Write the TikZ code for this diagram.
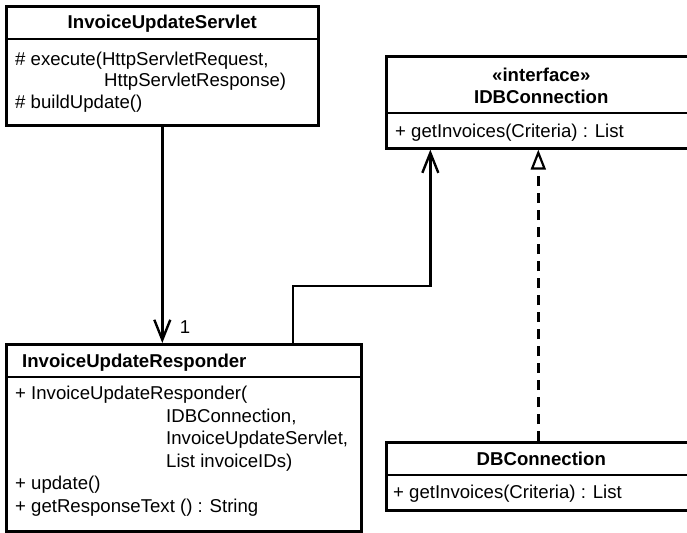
\documentclass[tikz,border=0pt]{standalone}
\usepackage{fontspec}
\setmainfont{Liberation Sans}
\usetikzlibrary{calc,positioning,arrows.meta}

\begin{document}
\begin{tikzpicture}[x=1pt,y=-1pt,
  font=\fontsize{18.6}{21}\selectfont,
  classbox/.style={draw,line width=2.6pt,inner sep=0pt,anchor=north west},
  sepline/.style={line width=1.6pt},
  titletext/.style={font=\fontsize{18.6}{21}\selectfont\bfseries,inner sep=0pt,anchor=base},
  optext/.style={align=left,inner sep=0pt,anchor=base west},
  assoc/.style={line width=2.4pt,-{Straight Barb[length=20pt,width=16pt,line width=2.4pt]}},
  realize/.style={line width=2.4pt,dash pattern=on 10pt off 7pt,-{Triangle[open,length=20pt,width=15pt,line width=2.2pt]}}]
  \useasboundingbox (0,0) rectangle (687,532);
  % classes
  \node[classbox,minimum width=312pt,minimum height=119pt] (Servlet) at (5,5) {};
  \node[classbox,minimum width=310pt,minimum height=92pt] (IDBConn) at (385,55) {};
  \node[classbox,minimum width=355pt,minimum height=187pt] (Responder) at (5,343) {};
  \node[classbox,minimum width=310pt,minimum height=68pt] (DBConn) at (385,441) {};
  %
  \draw[sepline] ([yshift=-34pt]Servlet.north west) -- ([yshift=-34pt]Servlet.north east);
  \draw[sepline] ([yshift=-58pt]IDBConn.north west) -- ([yshift=-58pt]IDBConn.north east);
  \draw[sepline] ([yshift=-34pt]Responder.north west) -- ([yshift=-34pt]Responder.north east);
  \draw[sepline] ([yshift=-34pt]DBConn.north west) -- ([yshift=-34pt]DBConn.north east);
  % texts (base = last line)
  \node[titletext] (Servlet_name) at ($(Servlet.north)+(0,24)$) {InvoiceUpdateServlet};
  \node[optext] (Servlet_ops) at ($(Servlet.north west)+(10,103)$) {\# execute(HttpServletRequest,\\
    \hspace*{89pt}HttpServletResponse)\\
    \# buildUpdate()};
  \node[titletext] (IDBConn_stereo) at ($(IDBConn.north)+(0,27)$) {«interface»};
  \node[titletext] (IDBConn_name) at ($(IDBConn.north)+(0,48)$) {IDBConnection};
  \node[optext] (IDBConn_ops) at ($(IDBConn.north west)+(10,82)$) {+ getInvoices(Criteria) : List};
  \node[titletext,anchor=base west] (Responder_name) at ($(Responder.north west)+(17,24)$) {InvoiceUpdateResponder};
  \node[optext,font=\fontsize{18.6}{22.5}\selectfont] (Responder_ops) at ($(Responder.north west)+(10,169)$) {+ InvoiceUpdateResponder(\\
    \hspace*{151pt}IDBConnection,\\
    \hspace*{151pt}InvoiceUpdateServlet,\\
    \hspace*{151pt}List invoiceIDs)\\
    + update()\\
    + getResponseText () : String};
  \node[titletext] (DBConn_name) at ($(DBConn.north)+(0,24)$) {DBConnection};
  \node[optext] (DBConn_ops) at ($(DBConn.north west)+(8,57)$) {+ getInvoices(Criteria) : List};
  %
  \coordinate (Responder_out) at ($(Responder.north west)!0.806!(Responder.north east)$);
  \coordinate (IDBConn_in) at ($(IDBConn.south west)!0.145!(IDBConn.south east)$);
  \draw[assoc] (Servlet.south) -- node[pos=1,anchor=base west,xshift=13pt,yshift=10pt] (mult) {1} (Servlet.south |- Responder.north);
  \draw[assoc] (Responder_out) -- ++(0,-57) -| (IDBConn_in);
  \draw[realize] ([xshift=-3pt]DBConn.north) -- ([xshift=-3pt]IDBConn.south);
\end{tikzpicture}
\end{document}
